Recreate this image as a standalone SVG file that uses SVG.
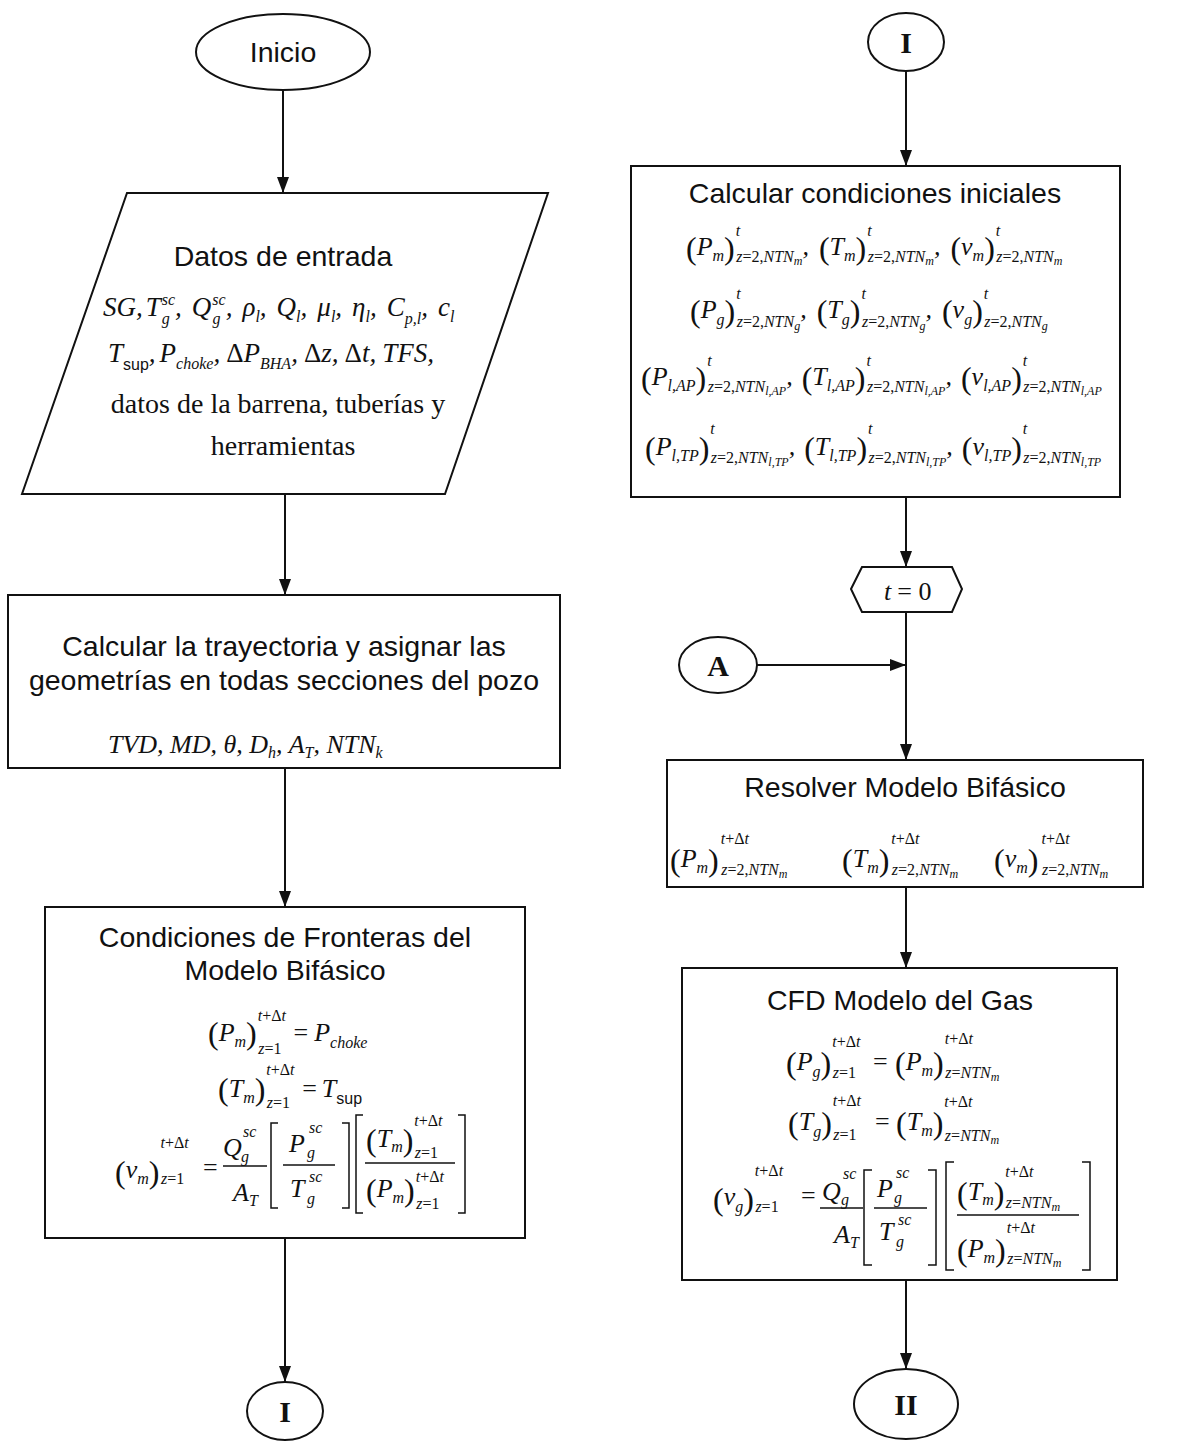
<svg xmlns="http://www.w3.org/2000/svg" width="1180" height="1441" viewBox="0 0 1180 1441">
<defs>
<marker id="ah" markerUnits="userSpaceOnUse" markerWidth="16" markerHeight="12" refX="16" refY="6" orient="auto">
<path d="M0,0 L16,6 L0,12 z" fill="#111"/>
</marker>
<style>
.sh{fill:#fff;stroke:#111;stroke-width:2}
.ttl{font-family:"Liberation Sans",Arial,sans-serif;font-size:28.5px;fill:#111;text-anchor:middle}
.tr{font-family:"Liberation Serif","Times New Roman",serif;font-size:28px;fill:#111;text-anchor:middle}
.m{font-family:"Liberation Serif","Times New Roman",serif;font-style:italic;font-size:26px;fill:#111}
.d{font-size:27px}
.n{font-style:normal}
.s{font-size:16px}
.x{font-size:12px}
.p{font-style:normal;font-size:32px}
.sa{font-family:"Liberation Sans",Arial,sans-serif;font-style:normal}
.bd{font-family:"Liberation Serif","Times New Roman",serif;font-weight:bold;font-size:30px;fill:#111;text-anchor:middle}
.cn line{stroke:#111;stroke-width:2;marker-end:url(#ah)}
.br{fill:none;stroke:#111;stroke-width:1.5}
.fb{stroke:#111;stroke-width:1.5}
</style>
</defs>
<rect width="1180" height="1441" fill="#fff"/>

<g id="connectors" class="cn">
<line x1="283" y1="90" x2="283" y2="193"/>
<line x1="285" y1="494" x2="285" y2="595"/>
<line x1="285" y1="768" x2="285" y2="907"/>
<line x1="285" y1="1238" x2="285" y2="1382"/>
<line x1="906" y1="71" x2="906" y2="166"/>
<line x1="906" y1="497" x2="906" y2="567"/>
<line x1="906" y1="612" x2="906" y2="760"/>
<line x1="757" y1="665" x2="906" y2="665"/>
<line x1="906" y1="887" x2="906" y2="968"/>
<line x1="906" y1="1280" x2="906" y2="1369"/>
</g>

<g id="inicio">
<ellipse class="sh" cx="283" cy="52" rx="87" ry="38"/>
<text class="ttl" x="283" y="62">Inicio</text>
</g>

<g id="datos">
<polygon class="sh" points="127,193 548,193 445,494 22,494"/>
<text class="ttl" x="283" y="266">Datos de entrada</text>
<text class="m d" x="103" y="316">SG,<tspan dx="3">T</tspan><tspan class="s" dx="1" dy="-11">sc</tspan><tspan class="s" dx="-13.3" dy="19">g</tspan><tspan dx="5.3" dy="-8">,</tspan><tspan dx="10">Q</tspan><tspan class="s" dx="1" dy="-11">sc</tspan><tspan class="s" dx="-13.3" dy="19">g</tspan><tspan dx="5.3" dy="-8">,</tspan><tspan dx="10">ρ</tspan><tspan class="s" dy="6">l</tspan><tspan dy="-6">,</tspan><tspan dx="10">Q</tspan><tspan class="s" dy="6">l</tspan><tspan dy="-6">,</tspan><tspan dx="10">μ</tspan><tspan class="s" dy="6">l</tspan><tspan dy="-6">,</tspan><tspan dx="10">η</tspan><tspan class="s" dy="6">l</tspan><tspan dy="-6">,</tspan><tspan dx="10">C</tspan><tspan class="s" dy="8">p,l</tspan><tspan dy="-8">,</tspan><tspan dx="10">c</tspan><tspan class="s" dy="6">l</tspan></text>
<text class="m d" x="108" y="362">T<tspan class="s sa" dy="8">sup</tspan><tspan dy="-8">,</tspan><tspan dx="4">P</tspan><tspan class="s" dy="7">choke</tspan><tspan dy="-7">,</tspan><tspan class="n" dx="6">Δ</tspan>P<tspan class="s" dy="7">BHA</tspan><tspan dy="-7">,</tspan><tspan class="n" dx="6">Δ</tspan>z,<tspan class="n" dx="6">Δ</tspan>t,<tspan dx="6">TFS,</tspan></text>
<text class="tr" x="278" y="413">datos de la barrena, tuberías y</text>
<text class="tr" x="283" y="455">herramientas</text>
</g>

<g id="trayectoria">
<rect class="sh" x="8" y="595" width="552" height="173"/>
<text class="ttl" x="284" y="656">Calcular la trayectoria y asignar las</text>
<text class="ttl" x="284" y="690">geometrías en todas secciones del pozo</text>
<text class="m" x="108" y="753">TVD, MD, θ, D<tspan class="s" dy="5">h</tspan><tspan dy="-5">, A</tspan><tspan class="s" dy="5">T</tspan><tspan dy="-5">, NTN</tspan><tspan class="s" dy="5">k</tspan></text>
</g>

<g id="fronteras">
<rect class="sh" x="45" y="907" width="480" height="331"/>
<text class="ttl" x="285" y="947">Condiciones de Fronteras del</text>
<text class="ttl" x="285" y="980">Modelo Bifásico</text>
<text class="m" x="208" y="1041"><tspan class="p" dy="3">(</tspan><tspan dy="-3">P</tspan><tspan class="s" dy="6">m</tspan><tspan class="p" dy="-3">)</tspan><tspan class="s" dx="1" dy="-23">t<tspan class="n">+Δ</tspan>t</tspan><tspan class="s" dx="-27.7" dy="33">z<tspan class="n">=1</tspan></tspan><tspan class="n" dx="12" dy="-13">=</tspan><tspan dx="6">P</tspan><tspan class="s" dy="7">choke</tspan></text>
<text class="m" x="218" y="1097"><tspan class="p" dy="3">(</tspan><tspan dy="-3">T</tspan><tspan class="s" dy="6">m</tspan><tspan class="p" dy="-3">)</tspan><tspan class="s" dx="1" dy="-25">t<tspan class="n">+Δ</tspan>t</tspan><tspan class="s" dx="-27.7" dy="33">z<tspan class="n">=1</tspan></tspan><tspan class="n" dx="12" dy="-11">=</tspan><tspan dx="5">T</tspan><tspan class="s sa" dy="7">sup</tspan></text>
<text class="m"><tspan class="p" x="115" y="1183">(</tspan><tspan dy="-5">v</tspan><tspan class="s" dy="6">m</tspan><tspan class="p" dy="-1">)</tspan><tspan class="s" dx="1" dy="-35">t<tspan class="n">+Δ</tspan>t</tspan><tspan class="s" dx="-27.7" dy="36">z<tspan class="n">=1</tspan></tspan><tspan class="n" x="203" y="1176">=</tspan><tspan x="223" y="1156">Q</tspan><tspan class="s" x="243" y="1137">sc</tspan><tspan class="s" x="241" y="1162">g</tspan><tspan x="233" y="1201">A</tspan><tspan class="s" x="249" y="1206">T</tspan><tspan x="289" y="1152">P</tspan><tspan class="s" x="309" y="1133">sc</tspan><tspan class="s" x="307" y="1158">g</tspan><tspan x="290" y="1197">T</tspan><tspan class="s" x="309" y="1182">sc</tspan><tspan class="s" x="307" y="1204">g</tspan><tspan class="p" x="366" y="1151">(</tspan><tspan dy="-4">T</tspan><tspan class="s" dy="5">m</tspan><tspan class="p" dy="-1">)</tspan><tspan class="s" dx="1" dy="-25">t<tspan class="n">+Δ</tspan>t</tspan><tspan class="s" dx="-27.7" dy="32">z<tspan class="n">=1</tspan></tspan><tspan class="p" x="366" y="1201">(</tspan><tspan dy="-4">P</tspan><tspan class="s" dy="6">m</tspan><tspan class="p" dy="-2">)</tspan><tspan class="s" dx="1" dy="-19">t<tspan class="n">+Δ</tspan>t</tspan><tspan class="s" dx="-27.7" dy="27">z<tspan class="n">=1</tspan></tspan></text>
<line class="fb" x1="223" y1="1166" x2="267" y2="1166"/>
<line class="fb" x1="283" y1="1165" x2="335" y2="1165"/>
<line class="fb" x1="365" y1="1163" x2="455" y2="1163"/>
<path class="br" d="M278,1123 H271 V1208 H278 M342,1123 H349 V1208 H342 M363,1115 H356 V1213 H363 M458,1115 H465 V1213 H458"/>
</g>

<g id="conector-I-fin">
<ellipse class="sh" cx="285" cy="1411" rx="38" ry="29"/>
<text class="bd" x="285" y="1422">I</text>
</g>

<g id="conector-I-inicio">
<ellipse class="sh" cx="906" cy="42" rx="38" ry="29"/>
<text class="bd" x="906" y="53">I</text>
</g>

<g id="condiciones-iniciales">
<rect class="sh" x="631" y="166" width="489" height="331"/>
<text class="ttl" x="875" y="203">Calcular condiciones iniciales</text>
<text class="m" x="686" y="255"><tspan class="p" dy="4">(</tspan><tspan dy="-4">P</tspan><tspan class="s" dy="6">m</tspan><tspan class="p" dy="-2">)</tspan><tspan class="s" dx="1" dy="-23">t</tspan><tspan class="s" dx="-4" dy="26">z<tspan class="n">=2,</tspan>NTN</tspan><tspan class="x" dy="3">m</tspan><tspan dy="-10">,</tspan><tspan class="p" dx="10" dy="4">(</tspan><tspan dy="-4">T</tspan><tspan class="s" dy="6">m</tspan><tspan class="p" dy="-2">)</tspan><tspan class="s" dx="1" dy="-23">t</tspan><tspan class="s" dx="-4" dy="26">z<tspan class="n">=2,</tspan>NTN</tspan><tspan class="x" dy="3">m</tspan><tspan dy="-10">,</tspan><tspan class="p" dx="10" dy="4">(</tspan><tspan dy="-4">v</tspan><tspan class="s" dy="6">m</tspan><tspan class="p" dy="-2">)</tspan><tspan class="s" dx="1" dy="-23">t</tspan><tspan class="s" dx="-4" dy="26">z<tspan class="n">=2,</tspan>NTN</tspan><tspan class="x" dy="3">m</tspan></text>
<text class="m" x="690" y="318"><tspan class="p" dy="4">(</tspan><tspan dy="-4">P</tspan><tspan class="s" dy="7">g</tspan><tspan class="p" dy="-3">)</tspan><tspan class="s" dx="1" dy="-23">t</tspan><tspan class="s" dx="-4" dy="28">z<tspan class="n">=2,</tspan>NTN</tspan><tspan class="x" dy="3">g</tspan><tspan dy="-12">,</tspan><tspan class="p" dx="10" dy="4">(</tspan><tspan dy="-4">T</tspan><tspan class="s" dy="7">g</tspan><tspan class="p" dy="-3">)</tspan><tspan class="s" dx="1" dy="-23">t</tspan><tspan class="s" dx="-4" dy="28">z<tspan class="n">=2,</tspan>NTN</tspan><tspan class="x" dy="3">g</tspan><tspan dy="-12">,</tspan><tspan class="p" dx="10" dy="4">(</tspan><tspan dy="-4">v</tspan><tspan class="s" dy="7">g</tspan><tspan class="p" dy="-3">)</tspan><tspan class="s" dx="1" dy="-23">t</tspan><tspan class="s" dx="-4" dy="28">z<tspan class="n">=2,</tspan>NTN</tspan><tspan class="x" dy="3">g</tspan></text>
<text class="m" x="641" y="385"><tspan class="p" dy="4">(</tspan><tspan dy="-4">P</tspan><tspan class="s" dy="6">l,AP</tspan><tspan class="p" dy="-2">)</tspan><tspan class="s" dx="1" dy="-23">t</tspan><tspan class="s" dx="-4" dy="26">z<tspan class="n">=2,</tspan>NTN</tspan><tspan class="x" dy="3">l,AP</tspan><tspan dy="-10">,</tspan><tspan class="p" dx="9" dy="4">(</tspan><tspan dy="-4">T</tspan><tspan class="s" dy="6">l,AP</tspan><tspan class="p" dy="-2">)</tspan><tspan class="s" dx="1" dy="-23">t</tspan><tspan class="s" dx="-4" dy="26">z<tspan class="n">=2,</tspan>NTN</tspan><tspan class="x" dy="3">l,AP</tspan><tspan dy="-10">,</tspan><tspan class="p" dx="9" dy="4">(</tspan><tspan dy="-4">v</tspan><tspan class="s" dy="6">l,AP</tspan><tspan class="p" dy="-2">)</tspan><tspan class="s" dx="1" dy="-23">t</tspan><tspan class="s" dx="-4" dy="26">z<tspan class="n">=2,</tspan>NTN</tspan><tspan class="x" dy="3">l,AP</tspan></text>
<text class="m" x="645" y="455"><tspan class="p" dy="4">(</tspan><tspan dy="-4">P</tspan><tspan class="s" dy="6">l,TP</tspan><tspan class="p" dy="-2">)</tspan><tspan class="s" dx="1" dy="-25">t</tspan><tspan class="s" dx="-4" dy="29">z<tspan class="n">=2,</tspan>NTN</tspan><tspan class="x" dy="3">l,TP</tspan><tspan dy="-11">,</tspan><tspan class="p" dx="9" dy="4">(</tspan><tspan dy="-4">T</tspan><tspan class="s" dy="6">l,TP</tspan><tspan class="p" dy="-2">)</tspan><tspan class="s" dx="1" dy="-25">t</tspan><tspan class="s" dx="-4" dy="29">z<tspan class="n">=2,</tspan>NTN</tspan><tspan class="x" dy="3">l,TP</tspan><tspan dy="-11">,</tspan><tspan class="p" dx="9" dy="4">(</tspan><tspan dy="-4">v</tspan><tspan class="s" dy="6">l,TP</tspan><tspan class="p" dy="-2">)</tspan><tspan class="s" dx="1" dy="-25">t</tspan><tspan class="s" dx="-4" dy="29">z<tspan class="n">=2,</tspan>NTN</tspan><tspan class="x" dy="3">l,TP</tspan></text>
</g>

<g id="t0">
<polygon class="sh" points="851,589 862,567 952,567 962,589 952,612 862,612"/>
<text class="m" x="884" y="600">t<tspan class="n" dx="6">= 0</tspan></text>
</g>

<g id="conector-A">
<ellipse class="sh" cx="718" cy="665" rx="39" ry="28"/>
<text class="bd" x="718" y="676">A</text>
</g>

<g id="resolver">
<rect class="sh" x="667" y="760" width="476" height="127"/>
<text class="ttl" x="905" y="797">Resolver Modelo Bifásico</text>
<text class="m"><tspan class="p" x="670" y="871">(</tspan><tspan dy="-4">P</tspan><tspan class="s" dy="6">m</tspan><tspan class="p" dy="-2">)</tspan><tspan class="s" dx="2" dy="-27">t<tspan class="n">+Δ</tspan>t</tspan><tspan class="s" dx="-27.7" dy="31">z<tspan class="n">=2,</tspan>NTN</tspan><tspan class="x" dy="3">m</tspan><tspan class="p" x="842" y="871">(</tspan><tspan dy="-4">T</tspan><tspan class="s" dy="6">m</tspan><tspan class="p" dy="-2">)</tspan><tspan class="s" dx="2" dy="-27">t<tspan class="n">+Δ</tspan>t</tspan><tspan class="s" dx="-27.7" dy="31">z<tspan class="n">=2,</tspan>NTN</tspan><tspan class="x" dy="3">m</tspan><tspan class="p" x="994" y="871">(</tspan><tspan dy="-4">v</tspan><tspan class="s" dy="6">m</tspan><tspan class="p" dy="-2">)</tspan><tspan class="s" dx="3" dy="-27">t<tspan class="n">+Δ</tspan>t</tspan><tspan class="s" dx="-27.7" dy="31">z<tspan class="n">=2,</tspan>NTN</tspan><tspan class="x" dy="3">m</tspan></text>
</g>

<g id="cfd-gas">
<rect class="sh" x="682" y="968" width="435" height="312"/>
<text class="ttl" x="900" y="1010">CFD Modelo del Gas</text>
<text class="m"><tspan class="p" x="786" y="1074">(</tspan><tspan dy="-4">P</tspan><tspan class="s" dy="7">g</tspan><tspan class="p" dy="-3">)</tspan><tspan class="s" dx="1" dy="-27">t<tspan class="n">+Δ</tspan>t</tspan><tspan class="s" dx="-27.7" dy="31">z<tspan class="n">=1</tspan></tspan><tspan class="n" x="873" y="1070">=</tspan><tspan class="p" x="895" y="1074">(</tspan><tspan dy="-4">P</tspan><tspan class="s" dy="6">m</tspan><tspan class="p" dy="-2">)</tspan><tspan class="s" dx="1" dy="-30">t<tspan class="n">+Δ</tspan>t</tspan><tspan class="s" dx="-27.7" dy="34">z<tspan class="n">=</tspan>NTN</tspan><tspan class="x" dy="3">m</tspan></text>
<text class="m"><tspan class="p" x="788" y="1134">(</tspan><tspan dy="-4">T</tspan><tspan class="s" dy="7">g</tspan><tspan class="p" dy="-3">)</tspan><tspan class="s" dx="1" dy="-28">t<tspan class="n">+Δ</tspan>t</tspan><tspan class="s" dx="-27.7" dy="34">z<tspan class="n">=1</tspan></tspan><tspan class="n" x="875" y="1130">=</tspan><tspan class="p" x="896" y="1134">(</tspan><tspan dy="-4">T</tspan><tspan class="s" dy="6">m</tspan><tspan class="p" dy="-2">)</tspan><tspan class="s" dx="1" dy="-27">t<tspan class="n">+Δ</tspan>t</tspan><tspan class="s" dx="-27.7" dy="34">z<tspan class="n">=</tspan>NTN</tspan><tspan class="x" dy="3">m</tspan></text>
<text class="m"><tspan class="p" x="713" y="1210">(</tspan><tspan dy="-5">v</tspan><tspan class="s" dy="7">g</tspan><tspan class="p" dy="-2">)</tspan><tspan class="s" dx="1" dy="-34">t<tspan class="n">+Δ</tspan>t</tspan><tspan class="s" dx="-27.7" dy="36">z<tspan class="n">=1</tspan></tspan><tspan class="n" x="801" y="1204">=</tspan><tspan x="822" y="1200">Q</tspan><tspan class="s" x="843" y="1179">sc</tspan><tspan class="s" x="841" y="1205">g</tspan><tspan x="834" y="1243">A</tspan><tspan class="s" x="850" y="1248">T</tspan><tspan x="877" y="1197">P</tspan><tspan class="s" x="896" y="1178">sc</tspan><tspan class="s" x="894" y="1203">g</tspan><tspan x="879" y="1240">T</tspan><tspan class="s" x="898" y="1225">sc</tspan><tspan class="s" x="896" y="1247">g</tspan><tspan class="p" x="957" y="1204">(</tspan><tspan dy="-4">T</tspan><tspan class="s" dy="5">m</tspan><tspan class="p" dy="-1">)</tspan><tspan class="s" dx="1" dy="-27">t<tspan class="n">+Δ</tspan>t</tspan><tspan class="s" dx="-27.7" dy="31">z<tspan class="n">=</tspan>NTN</tspan><tspan class="x" dy="3">m</tspan><tspan class="p" x="957" y="1261">(</tspan><tspan dy="-4">P</tspan><tspan class="s" dy="6">m</tspan><tspan class="p" dy="-2">)</tspan><tspan class="s" dx="1" dy="-28">t<tspan class="n">+Δ</tspan>t</tspan><tspan class="s" dx="-27.7" dy="31">z<tspan class="n">=</tspan>NTN</tspan><tspan class="x" dy="3">m</tspan></text>
<line class="fb" x1="820" y1="1208" x2="863" y2="1208"/>
<line class="fb" x1="874" y1="1208" x2="927" y2="1208"/>
<line class="fb" x1="957" y1="1215" x2="1079" y2="1215"/>
<path class="br" d="M872,1170 H864 V1265 H872 M928,1170 H936 V1265 H928 M954,1162 H946 V1270 H954 M1082,1162 H1090 V1270 H1082"/>
</g>

<g id="conector-II">
<ellipse class="sh" cx="906" cy="1404" rx="52" ry="35"/>
<text class="bd" x="906" y="1415">II</text>
</g>
</svg>
